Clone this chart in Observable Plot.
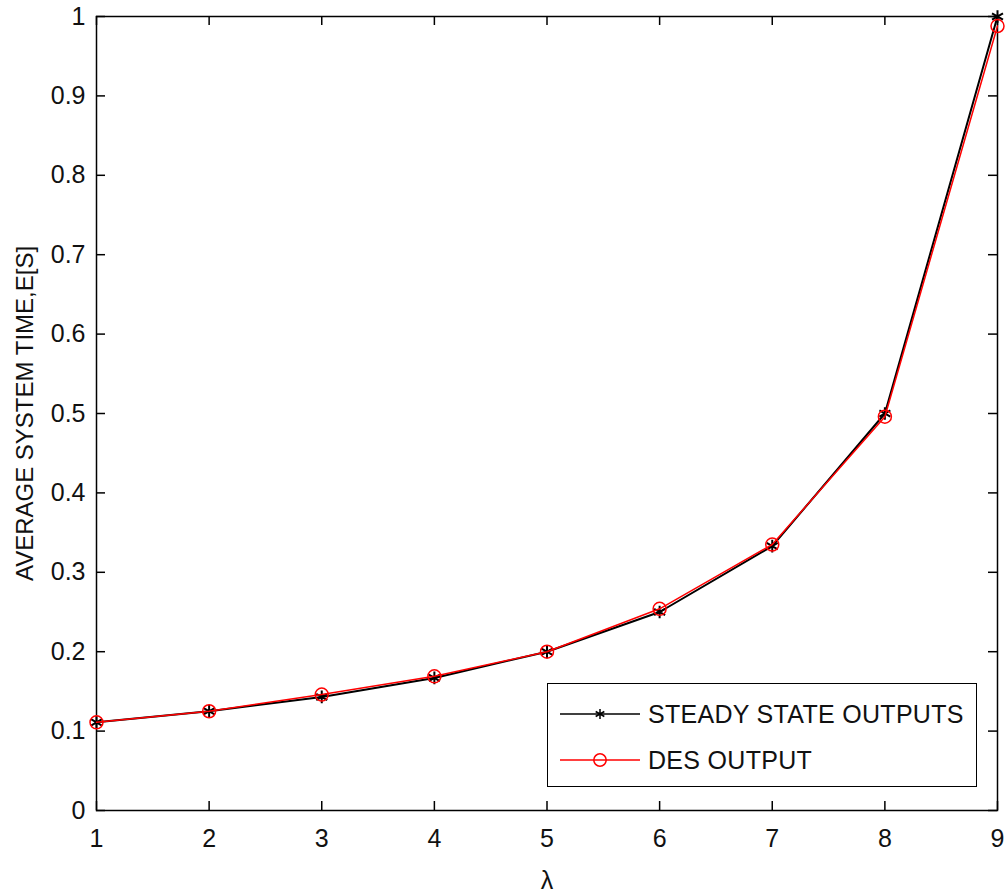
<!DOCTYPE html>
<html>
<head>
<meta charset="utf-8">
<script src="https://cdn.jsdelivr.net/npm/d3@7"></script>
<script src="https://cdn.jsdelivr.net/npm/@observablehq/plot@0.6"></script>
<style>
  body { margin: 0; background: #fff; }
  #wrap { position: relative; width: 1005px; height: 892px; }
  #legend {
    position: absolute; left: 547px; top: 683px; width: 428px; height: 102px;
    border: 1.5px solid #000; background: #fff;
    font-family: "Liberation Sans", Arial, sans-serif; font-size: 25px; color: #111;
  }
  #legend .row { position: absolute; left: 0; height: 30px; display: flex; align-items: center; }
  #legend svg { display: block; }
  #legend span { margin-left: 0px; letter-spacing: 0.3px; }
</style>
</head>
<body>
<div id="wrap"></div>
<script>
const lambda = [1, 2, 3, 4, 5, 6, 7, 8, 9];
const steadyState = [0.111, 0.125, 0.143, 0.167, 0.2, 0.25, 0.333, 0.5, 1.0];
const desOutput = [0.111, 0.125, 0.146, 0.169, 0.2, 0.254, 0.335, 0.496, 0.988];
const xTicks = [1, 2, 3, 4, 5, 6, 7, 8, 9];
const yTicks = [0, 0.1, 0.2, 0.3, 0.4, 0.5, 0.6, 0.7, 0.8, 0.9, 1];
const seriesNames = ["STEADY STATE OUTPUTS", "DES OUTPUT"];
const xLabel = "λ";
const yLabel = "AVERAGE SYSTEM TIME,E[S]";

const steadyData = lambda.map((x, i) => ({x, y: steadyState[i]}));
const desData = lambda.map((x, i) => ({x, y: desOutput[i]}));

const W = 1005, H = 892, mL = 96, mR = 8, mT = 16, mB = 82;
const innerH = H - mT - mB, innerW = W - mL - mR;
const tk = 9;

const chart = Plot.plot({
  width: W, height: H,
  marginLeft: mL, marginRight: mR, marginTop: mT, marginBottom: mB,
  style: {fontFamily: "'Liberation Sans', Arial, sans-serif", fontSize: "25px", color: "#111", background: "#fff"},
  x: {domain: [1, 9]},
  y: {domain: [0, 1]},
  marks: [
    Plot.axisX({ticks: xTicks, tickSize: 0, tickPadding: 19, label: xLabel, labelAnchor: "center", labelArrow: "none", labelOffset: 78, tickFormat: d => String(d)}),
    Plot.axisY({ticks: yTicks, tickSize: 0, tickPadding: 11, label: null, tickFormat: d => String(d)}),
    Plot.text([yLabel], {text: d => d, frameAnchor: "left", textAnchor: "middle", rotate: -90, dx: -71, fontSize: 24, fill: "#111"}),
    Plot.ruleX(xTicks, {x: d => d, insetTop: innerH - tk, stroke: "#000", strokeWidth: 1.5}),
    Plot.ruleX(xTicks, {x: d => d, insetBottom: innerH - tk, stroke: "#000", strokeWidth: 1.5}),
    Plot.ruleY(yTicks, {y: d => d, insetRight: innerW - tk, stroke: "#000", strokeWidth: 1.5}),
    Plot.ruleY(yTicks, {y: d => d, insetLeft: innerW - tk, stroke: "#000", strokeWidth: 1.5}),
    Plot.frame({stroke: "#000", strokeWidth: 1.5}),
    Plot.line(steadyData, {x: "x", y: "y", stroke: "#000", strokeWidth: 2}),
    Plot.dot(steadyData, {x: "x", y: "y", symbol: "asterisk", r: 6, stroke: "#000", strokeWidth: 2}),
    Plot.line(desData, {x: "x", y: "y", stroke: "#ff0000", strokeWidth: 1.5}),
    Plot.dot(desData, {x: "x", y: "y", symbol: "circle", r: 6.5, stroke: "#ff0000", strokeWidth: 1.5, fill: "none"})
  ]
});
const wrap = document.getElementById("wrap");
wrap.appendChild(chart);

const legend = document.createElement("div");
legend.id = "legend";
const rows = [
  {name: seriesNames[0], color: "#000", sym: "asterisk", top: 15},
  {name: seriesNames[1], color: "#ff0000", sym: "circle", top: 61}
];
for (const r of rows) {
  const row = document.createElement("div");
  row.className = "row";
  row.style.top = r.top + "px";
  const svg = d3.create("svg").attr("width", 100).attr("height", 30);
  svg.append("line").attr("x1", 12).attr("x2", 92).attr("y1", 15).attr("y2", 15)
    .attr("stroke", r.color).attr("stroke-width", 1.5);
  const sym = r.sym === "asterisk" ? d3.symbolAsterisk : d3.symbolCircle;
  svg.append("path").attr("transform", "translate(52,15)")
    .attr("d", d3.symbol(sym, r.sym === "asterisk" ? 70 : 120)())
    .attr("fill", "none").attr("stroke", r.color).attr("stroke-width", 1.5);
  row.appendChild(svg.node());
  const span = document.createElement("span");
  span.textContent = r.name;
  row.appendChild(span);
  legend.appendChild(row);
}
wrap.appendChild(legend);
</script>
</body>
</html>
